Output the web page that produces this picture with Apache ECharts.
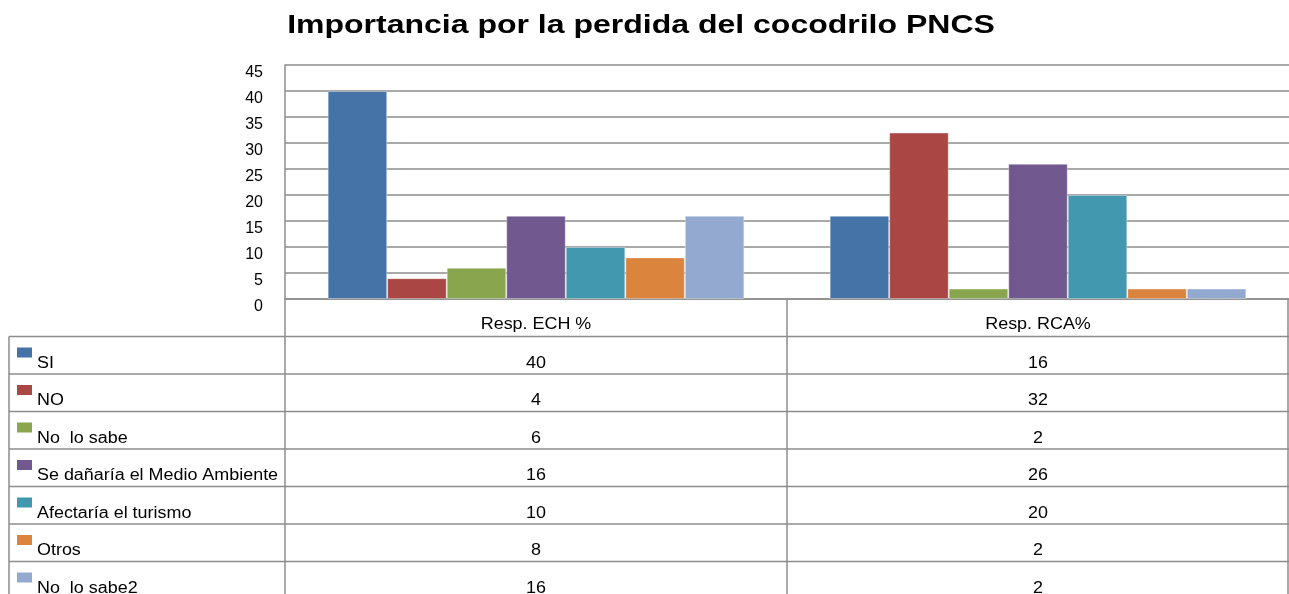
<!DOCTYPE html>
<html>
<head>
<meta charset="utf-8">
<script src="https://cdn.jsdelivr.net/npm/echarts@6/dist/echarts.min.js"></script>
<style>
  html, body { margin: 0; padding: 0; background: #fff; }
  #chart { width: 1289px; height: 594px; }
</style>
</head>
<body>
<div id="chart"></div>
<script>
// datos del grafico
var titulo = 'Importancia por la perdida del cocodrilo PNCS';
var categorias = ['Resp. ECH %', 'Resp. RCA%'];
var respuestas = ['SI', 'NO', 'No  lo sabe', 'Se dañaría el Medio Ambiente', 'Afectaría el turismo', 'Otros', 'No  lo sabe2'];
var valoresECH = [40, 4, 6, 16, 10, 8, 16];
var valoresRCA = [16, 32, 2, 26, 20, 2, 2];
var colores = ['#4572A7', '#AA4643', '#89A54E', '#71588F', '#4198AF', '#DB843D', '#93A9CF'];

var chart = echarts.init(document.getElementById('chart'));

// medidas del area del grafico y de la tabla
var gridLeft = 285, gridRight = 1289, gridTop = 65, gridBottom = 299;
var tablaLeft = 9, filaAlto = 37.5;
var lineaGris = '#8c8c8c';
var fuente = 'Liberation Sans, Arial, sans-serif';
var estirar = 1.12; // el texto original esta algo ensanchado

var series = respuestas.map(function (nombre, i) {
  return {
    name: nombre,
    type: 'bar',
    data: [valoresECH[i], valoresRCA[i]],
    barGap: '0%',
    barCategoryGap: '17%',
    itemStyle: { color: colores[i], borderColor: 'rgba(255,255,255,0.35)', borderWidth: 1 }
  };
});

// tabla de datos debajo del grafico
var graficos = [];
var colW = (gridRight - gridLeft) / categorias.length;
function linea(x1, y1, x2, y2) {
  graficos.push({ type: 'line', shape: { x1: x1, y1: y1, x2: x2, y2: y2 }, style: { stroke: lineaGris, lineWidth: 1.5 }, silent: true });
}
function texto(t, x, y, align) {
  graficos.push({
    type: 'text', x: x, y: y, scaleX: estirar,
    style: { text: t, fill: '#000', font: '16px ' + fuente, textAlign: align, textVerticalAlign: 'bottom' },
    silent: true
  });
}
// titulo
graficos.push({
  type: 'text', x: 641, y: 26, scaleX: 1.28,
  style: { text: titulo, fill: '#000', font: 'bold 25px ' + fuente, textAlign: 'center', textVerticalAlign: 'middle' },
  silent: true
});
var filaTop = gridBottom + filaAlto;
// cabecera
categorias.forEach(function (c, j) {
  texto(c, gridLeft + colW * (j + 0.5), gridBottom + 34, 'center');
});
linea(gridLeft, gridBottom, gridLeft, 600);
linea(gridLeft + colW, gridBottom, gridLeft + colW, 600);
linea(gridRight - 1, gridBottom, gridRight - 1, 600);
linea(tablaLeft, filaTop, tablaLeft, 600);
respuestas.forEach(function (r, i) {
  var y0 = filaTop + i * filaAlto;
  linea(tablaLeft, y0, gridRight, y0);
  graficos.push({ type: 'rect', shape: { x: tablaLeft + 8, y: y0 + 11, width: 15, height: 10 }, style: { fill: colores[i] }, silent: true });
  texto(r, tablaLeft + 28, y0 + 35, 'left');
  texto(String(valoresECH[i]), gridLeft + colW * 0.5, y0 + 35, 'center');
  texto(String(valoresRCA[i]), gridLeft + colW * 1.5, y0 + 35, 'center');
});

var option = {
  animation: false,
  grid: { left: gridLeft, right: 1289 - gridRight, top: gridTop, bottom: 594 - gridBottom, containLabel: false },
  xAxis: {
    type: 'category',
    data: categorias,
    axisLine: { show: true, lineStyle: { color: lineaGris, width: 1.5 } },
    axisTick: { show: false },
    axisLabel: { show: false }
  },
  yAxis: {
    type: 'value',
    min: 0,
    max: 45,
    interval: 5,
    axisLine: { show: true, lineStyle: { color: lineaGris, width: 1.5 } },
    axisTick: { show: false },
    axisLabel: { color: '#000', fontSize: 16, fontFamily: fuente, margin: 22, verticalAlign: 'top', lineHeight: 16 },
    splitLine: { lineStyle: { color: lineaGris, width: 1.5 } }
  },
  series: series,
  graphic: graficos
};

chart.setOption(option);
</script>
</body>
</html>
